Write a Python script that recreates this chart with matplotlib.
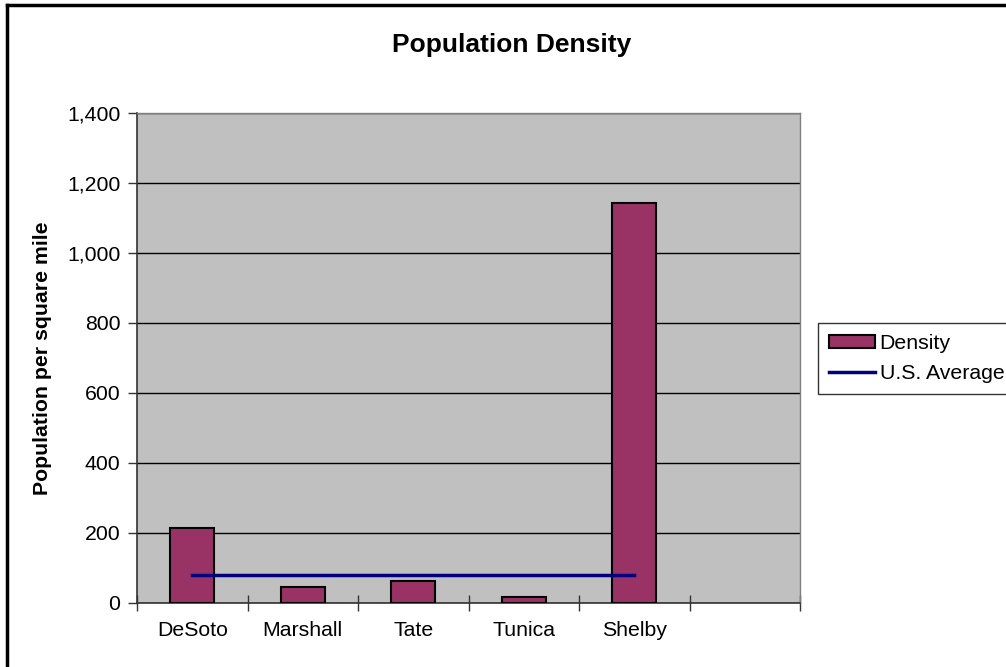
import numpy as np
import matplotlib
matplotlib.use("Agg")
import matplotlib.pyplot as plt
from matplotlib.lines import Line2D

plt.rcParams['font.family'] = ['Liberation Sans', 'DejaVu Sans']

counties = ["DeSoto", "Marshall", "Tate", "Tunica", "Shelby"]
density = [214, 47, 62, 18, 1142]
us_average = [80, 80, 80, 80, 80]
n_slots = 6  # Excel leaves one empty category slot on the right
y_ticks = [0, 200, 400, 600, 800, 1000, 1200, 1400]

W, H = 1006, 667
FS = 15.3
fig = plt.figure(figsize=(W / 100, H / 100), dpi=100)
ax = fig.add_axes([137 / W, 1 - 603 / H, (800 - 137) / W, (603 - 113) / H])
ax.set_facecolor('#c0c0c0')

x = np.arange(len(counties)) + 0.5
bars = ax.bar(x, density, width=0.4, color='#993366', edgecolor='black', linewidth=1.5,
              zorder=3, label='Density')
line, = ax.plot(x, us_average, color='#000080', lw=2.5, zorder=4, label='U.S. Average')

ax.set_xlim(0, n_slots)
ax.set_ylim(0, 1400)
ax.set_yticks(y_ticks)
ax.set_yticklabels([f"{v:,}" for v in y_ticks])
ax.yaxis.grid(True, color='black', lw=1)
ax.set_axisbelow(True)

ax.set_xticks(np.arange(n_slots + 1))
ax.set_xticklabels([])
ax.set_xticks(x, minor=True)
ax.set_xticklabels(counties, minor=True)
ax.tick_params(axis='x', which='minor', length=0, pad=13, labelsize=FS)
ax.tick_params(axis='x', which='major', direction='inout', length=12, width=1, color='#333333')
ax.tick_params(axis='y', direction='out', length=6.5, width=1, labelsize=FS, pad=5.5, color='#333333')

for side in ['top', 'right']:
    ax.spines[side].set_color('#808080')
    ax.spines[side].set_linewidth(1)
ax.spines['left'].set_color('#333333')
ax.spines['bottom'].set_color('#333333')
ax.spines['left'].set_linewidth(1.2)
ax.spines['bottom'].set_linewidth(1.2)

fig.text(43 / W, 1 - 358 / H, 'Population per square mile', rotation=90, ha='center',
         va='center', fontsize=FS, fontweight='bold')
fig.text(512 / W, 1 - 45 / H, 'Population Density', ha='center', va='center',
         fontsize=19, fontweight='bold')

leg = ax.legend([bars, line], ['Density', 'U.S. Average'], loc='upper left',
                bbox_to_anchor=(818 / W, 1 - 323 / H),
                bbox_transform=fig.transFigure, fontsize=FS, frameon=True,
                fancybox=False, borderpad=0.5, handlelength=2.2, handleheight=0.55,
                handletextpad=0.2, labelspacing=0.55, borderaxespad=0)
leg.get_frame().set_edgecolor('black')
leg.get_frame().set_linewidth(1)

# chart-area border (only left and top edges are visible in the crop)
fig.add_artist(Line2D([7 / W, 7 / W], [0, 1 - 5 / H], color='black', lw=2.5,
                      transform=fig.transFigure))
fig.add_artist(Line2D([7 / W, 1], [1 - 5 / H, 1 - 5 / H], color='black', lw=2.5,
                      transform=fig.transFigure))

fig.savefig('out.png', dpi=100, facecolor='white')
